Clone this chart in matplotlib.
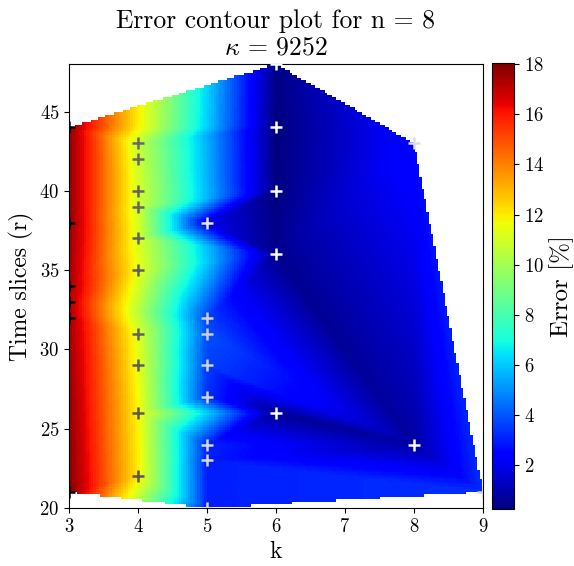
import numpy as np
import matplotlib
matplotlib.use("Agg")
import matplotlib.pyplot as plt
import matplotlib.tri as mtri

plt.rcParams['font.family'] = 'serif'
plt.rcParams['font.serif'] = ['cmr10']
plt.rcParams['mathtext.fontset'] = 'cm'
plt.rcParams['axes.formatter.use_mathtext'] = True

# scattered samples (k, r) and their error in %
k_pts = [3, 3, 3, 3, 3, 3,
         4, 4, 4, 4, 4, 4, 4, 4, 4, 4,
         5, 5, 5, 5, 5, 5, 5, 5,
         6, 6, 6, 6, 6,
         8, 8,
         9]
r_pts = [21, 32, 33, 34, 38, 44,
         22, 26, 29, 31, 35, 37, 39, 40, 42, 43,
         20, 23, 24, 27, 29, 31, 32, 38,
         26, 36, 40, 44, 48,
         24, 43,
         21]
err_pts = [18.05, 17.5, 17.3, 17.5, 17.8, 17.8,
           12.0, 11.8, 11.5, 11.3, 11.5, 11.2, 11.0, 11.1, 10.9, 10.7,
           3.0, 3.0, 3.1, 3.3, 3.6, 3.9, 3.7, 2.0,
           0.6, 0.5, 0.3, 0.25, 0.4,
           0.8, 2.6,
           3.3]

k_arr = np.array(k_pts, dtype=float)
r_arr = np.array(r_pts, dtype=float)
e_arr = np.array(err_pts, dtype=float)

tri = mtri.Triangulation(k_arr, r_arr)
interp = mtri.LinearTriInterpolator(tri, e_arr)
kg = np.linspace(k_arr.min(), k_arr.max(), 180)
rg = np.linspace(r_arr.min(), r_arr.max(), 180)
KG, RG = np.meshgrid(kg, rg)
EG = interp(KG, RG)

vmin, vmax = e_arr.min(), e_arr.max()

fig = plt.figure(figsize=(5.74, 5.66), dpi=100)
ax = fig.add_axes([69/574, 1-508/566, (483-69)/574, (508-64)/566])
cax = fig.add_axes([492/574, 1-509/566, (514-492)/574, (509-63)/566])

mesh = ax.pcolormesh(KG, RG, EG, cmap='jet', vmin=vmin, vmax=vmax, shading='auto')
ax.scatter(k_arr, r_arr, c=e_arr, cmap='gray_r', vmin=vmin, vmax=vmax,
           marker='+', s=75, linewidths=1.8, zorder=3)

ax.set_xlim(3, 9)
ax.set_ylim(20, 48)
ax.set_xticks(range(3, 10))
ax.set_yticks(range(20, 46, 5))
ax.tick_params(labelsize=13.5)
ax.set_xlabel('k', fontsize=17)
ax.set_ylabel('Time slices (r)', fontsize=17)
ax.set_title('Error contour plot for n = 8\n$\\kappa$ = 9252', fontsize=18.5,
             linespacing=1.15, pad=7)

cb = fig.colorbar(mesh, cax=cax)
cb.set_ticks(range(2, 19, 2))
cb.ax.tick_params(labelsize=13.5)
cb.set_label('Error [%]', fontsize=18)

fig.savefig('out.png', dpi=100)
